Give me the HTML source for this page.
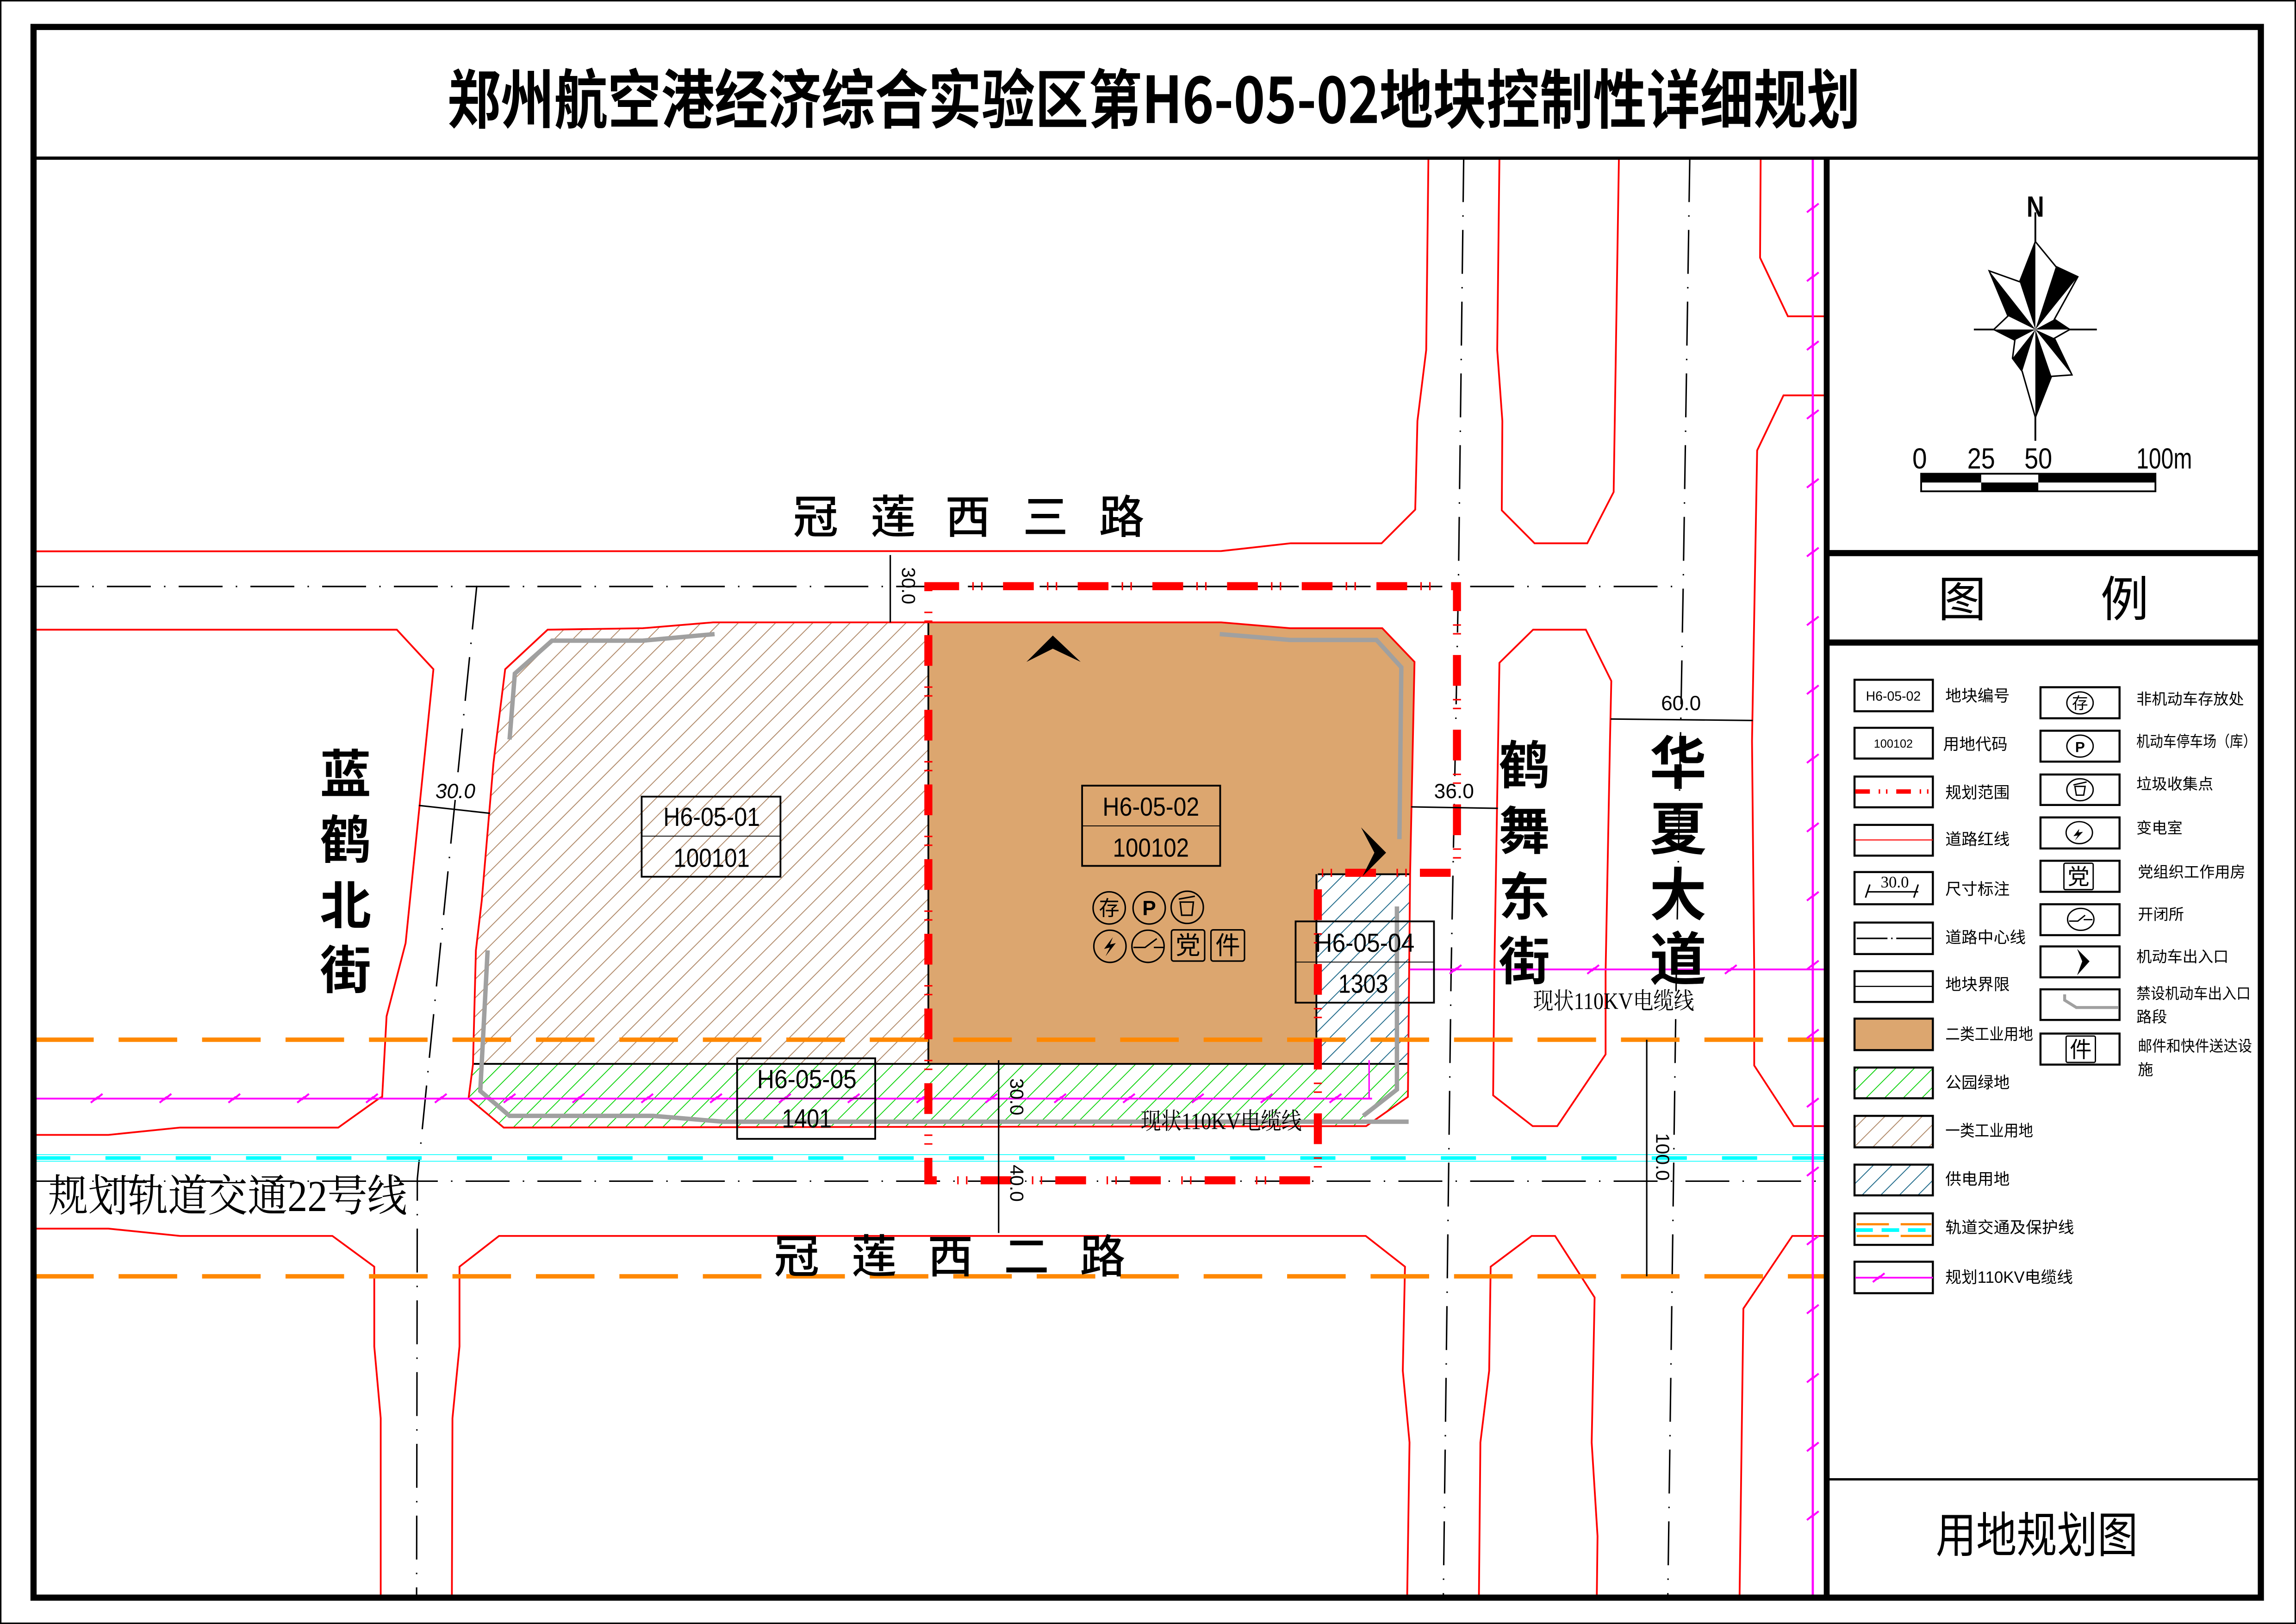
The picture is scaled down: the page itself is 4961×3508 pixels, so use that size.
<!DOCTYPE html>
<html><head><meta charset="utf-8"><style>
html,body{margin:0;padding:0;background:#fff;}
svg{display:block;}
text{font-family:"Liberation Sans","Noto Sans CJK SC",sans-serif;}
.cn{font-family:"Noto Sans CJK SC","WenQuanYi Zen Hei",sans-serif;}
.sf{font-family:"Liberation Serif","Noto Serif CJK SC",serif;}
.rd{fill:none;stroke:#ff0000;stroke-width:1.2;}
.cl{fill:none;stroke:#000;stroke-width:1;stroke-dasharray:30 9 1 9;}
.or{stroke:#ff8800;stroke-width:3;stroke-dasharray:40 17;}
.gy{fill:none;stroke:#a0a0a0;stroke-width:3;}
.lb{font-size:11px;}
.rb{font-size:10.5px;}
</style></head><body>
<svg width="4961" height="3508" viewBox="0 0 1568 1109" preserveAspectRatio="none" xmlns="http://www.w3.org/2000/svg">
<defs>
<pattern id="pb" patternUnits="userSpaceOnUse" width="9" height="9" patternTransform="rotate(45)">
<rect width="9" height="9" fill="#fff"/><line x1="0" y1="0" x2="0" y2="9" stroke="#b08a6a" stroke-width="1.2"/></pattern>
<pattern id="pg" patternUnits="userSpaceOnUse" width="9" height="9" patternTransform="rotate(45)">
<rect width="9" height="9" fill="#fff"/><line x1="0" y1="0" x2="0" y2="9" stroke="#00d000" stroke-width="1.1"/></pattern>
<pattern id="pe" patternUnits="userSpaceOnUse" width="9" height="9" patternTransform="rotate(45)">
<rect width="9" height="9" fill="#fff"/><line x1="0" y1="0" x2="0" y2="9" stroke="#1f6a8a" stroke-width="1.2"/></pattern>
<g id="zz"><path d="M-4,3 L1,-1 L-1,1 L4,-3" fill="none" stroke="#ff00ff" stroke-width="1.3"/></g>
</defs>
<rect x="0" y="0" width="1568" height="1109" fill="#fff"/>
<rect x="0.5" y="0.5" width="1567" height="1108" fill="none" stroke="#000" stroke-width="1"/>

<!-- land fills -->
<path d="M345,457 L374,430 L439,429 L487,425 L634,425 L634,726 L323,727 L325,649 L329,615 L337,521 Z" fill="url(#pb)"/>
<path d="M634,425 L834,425 L881,429 L944,429 L966,452 L963,597 L900,597 L899,726 L634,726 Z" fill="#dca66f"/>
<path d="M900,597 L963,597 L961.5,726 L898.5,726 Z" fill="url(#pe)"/>
<path d="M323,727 L961.5,726 L961.5,749 L933,769 L344,770 L320,750 Z" fill="url(#pg)"/>
<path d="M634,425 V726 M323,726.5 H961.5 M900,597 H963 M899,597 V726" stroke="#000" stroke-width="1.2" fill="none"/>

<!-- road red lines -->
<path class="rd" d="M24,376.5 L834,376.3 L881.5,371 L943.5,371 L966.5,348 L968,287.5 L974,239 L975.5,108"/>
<path class="rd" d="M24,430 L271,430 L296,457 L277,644 L264,694 L261,749 L259,750 L231,770 L123,770 L74,775 L24,775"/>
<path class="rd" d="M345,457 L374,430 L439,429 L487,425 L834,425 L881,429 L944,429 L966,452 L963,597 L961.5,749 L933,769 L344,770 L320,750 L323,727 L325,649 L329,615 L337,521 Z"/>
<path class="rd" d="M1024,108 L1022.5,239 L1026,287.5 L1025.6,348.5 L1048,371 L1084,371 L1102,336 L1105.6,108"/>
<path class="rd" d="M1202.4,108 L1202,176 L1221,216 L1246,216"/>
<path class="rd" d="M1246,270 L1218,270 L1200,307.6 L1196.5,506 L1198,664 L1198,727.6 L1225,769 L1246,769"/>
<path class="rd" d="M1024,452.6 L1047,430 L1083,430 L1100.4,465 L1099.5,506 L1096.5,664 L1096.5,720 L1063.5,769 L1046.7,769 L1019.7,748 L1020.5,664 Z"/>
<path class="rd" d="M24,839 L74,839 L123,844 L227,844 L255.6,865 L255.6,919.5 L260,968.5 L260,1090"/>
<path class="rd" d="M308.6,1090 L309,968.5 L313.8,919.5 L313.8,865 L340.8,844 L932.7,844 L959.5,865 L958,936 L962.6,985 L961,1090"/>
<path class="rd" d="M1010,1090 L1011,985 L1017,936 L1018,865 L1046,844 L1062,844 L1089,886 L1087,985 L1091,1049 L1090.5,1090"/>
<path class="rd" d="M1188,1090 L1190.6,893.6 L1224,844 L1246,844"/>

<!-- centerlines -->
<path class="cl" d="M24,400.5 H1150"/>
<path class="cl" d="M24,806.6 H1246"/>
<path class="cl" d="M325.6,400 L299,664 L285,805 L284.5,1090"/>
<path class="cl" d="M999.6,108 L996,398 L991,664 L985.7,1090"/>
<path class="cl" d="M1154,108 L1149.5,400 L1144.8,664 L1139,1090"/>

<!-- rail & protect -->
<line x1="24" y1="710" x2="1246" y2="710" class="or"/>
<line x1="24" y1="871.6" x2="1246" y2="871.6" class="or"/>
<line x1="24" y1="788.5" x2="1246" y2="788.5" stroke="#00ffff" stroke-width="0.5"/>
<line x1="24" y1="793" x2="1246" y2="793" stroke="#00ffff" stroke-width="0.5"/>
<line x1="24" y1="790.8" x2="1246" y2="790.8" stroke="#00ffff" stroke-width="2.5" stroke-dasharray="24 24"/>

<!-- gray no-entry -->
<path class="gy" d="M488,433 L439,437.5 L377,437.5 L351.6,460 L348,505"/>
<path class="gy" d="M333,649 L328,745 L348,762 L446,762 L494,766 L962,766"/>
<path class="gy" d="M833,433 L881,437 L940,437 L957,455.7 L955.7,573"/>
<path class="gy" d="M954,619 L954,744 L931,762"/>

<!-- cables -->
<line x1="24" y1="750.2" x2="937" y2="750.2" stroke="#ff00ff" stroke-width="1.2"/>
<path d="M935,750 V724" stroke="#ff00ff" stroke-width="1" fill="none"/>
<line x1="962.8" y1="662" x2="1246" y2="662" stroke="#ff00ff" stroke-width="1.2"/>
<line x1="1238" y1="108" x2="1238" y2="1090" stroke="#ff00ff" stroke-width="1.5"/>
<g>
<use href="#zz" x="66" y="750"/><use href="#zz" x="113" y="750"/><use href="#zz" x="160" y="750"/><use href="#zz" x="207" y="750"/><use href="#zz" x="254" y="750"/><use href="#zz" x="301" y="750"/><use href="#zz" x="348" y="750"/><use href="#zz" x="395" y="750"/><use href="#zz" x="442" y="750"/><use href="#zz" x="489" y="750"/><use href="#zz" x="536" y="750"/><use href="#zz" x="583" y="750"/><use href="#zz" x="630" y="750"/><use href="#zz" x="677" y="750"/><use href="#zz" x="724" y="750"/><use href="#zz" x="771" y="750"/><use href="#zz" x="818" y="750"/><use href="#zz" x="865" y="750"/><use href="#zz" x="912" y="750"/>
<use href="#zz" x="994" y="662"/><use href="#zz" x="1088" y="662"/><use href="#zz" x="1182" y="662"/>
<use href="#zz" x="1238" y="142"/><use href="#zz" x="1238" y="189"/><use href="#zz" x="1238" y="236"/><use href="#zz" x="1238" y="283"/><use href="#zz" x="1238" y="330"/><use href="#zz" x="1238" y="377"/><use href="#zz" x="1238" y="424"/><use href="#zz" x="1238" y="471"/><use href="#zz" x="1238" y="518"/><use href="#zz" x="1238" y="565"/><use href="#zz" x="1238" y="612"/><use href="#zz" x="1238" y="659"/><use href="#zz" x="1238" y="706"/><use href="#zz" x="1238" y="753"/><use href="#zz" x="1238" y="800"/><use href="#zz" x="1238" y="847"/><use href="#zz" x="1238" y="894"/><use href="#zz" x="1238" y="941"/><use href="#zz" x="1238" y="988"/><use href="#zz" x="1238" y="1035"/>
</g>

<!-- planning boundary -->
<path d="M634,400.3 H995 V596 H900 V806 H634 Z" fill="none" stroke="#ff0000" stroke-width="5.5" stroke-dasharray="21 9 1 5 1 14"/>

<!-- dimensions -->
<g stroke="#000" stroke-width="1" fill="none">
<path d="M608,379 V425 M286,550 L334.6,555.4 M963.8,551 L1023,552 M1100,491 L1197,492 M1124.6,710 V871.6 M682,724 V842"/>
</g>
<g fill="#000" class="sf">
<text x="311" y="545" font-size="14" text-anchor="middle" font-style="italic">30.0</text>
<text x="993" y="545" font-size="14" text-anchor="middle">36.0</text>
<text x="1148" y="485" font-size="14" text-anchor="middle">60.0</text>
<text transform="translate(616,400) rotate(90)" font-size="13" text-anchor="middle">30.0</text>
<text transform="translate(690,749) rotate(90)" font-size="13" text-anchor="middle">30.0</text>
<text transform="translate(690,808) rotate(90)" font-size="13" text-anchor="middle">40.0</text>
<text transform="translate(1131,790) rotate(90)" font-size="13" text-anchor="middle">100.0</text>
</g>

<!-- label boxes -->
<g fill="#fff" stroke="#000" stroke-width="1.2">
<rect x="438.2" y="544" width="94.8" height="54.7" fill="none"/>
<rect x="739" y="536.5" width="94.3" height="54.8" fill="none"/>
<rect x="884.8" y="629.2" width="94.5" height="55.5" fill="none"/>
<rect x="503.4" y="722.7" width="94.3" height="55" fill="none"/>
</g>
<g stroke="#000" stroke-width="0.6"><line x1="438.2" y1="571" x2="533" y2="571"/><line x1="739" y1="564" x2="833.3" y2="564"/><line x1="884.8" y1="657" x2="979.3" y2="657"/><line x1="503.4" y1="750" x2="597.7" y2="750"/></g>
<g font-size="18" text-anchor="middle" fill="#000">
<text x="486" y="564" textLength="66" lengthAdjust="spacingAndGlyphs">H6-05-01</text>
<text x="486" y="592" textLength="52" lengthAdjust="spacingAndGlyphs">100101</text>
<text x="786" y="557" textLength="66" lengthAdjust="spacingAndGlyphs">H6-05-02</text>
<text x="786" y="585" textLength="52" lengthAdjust="spacingAndGlyphs">100102</text>
<text x="932" y="650" textLength="68" lengthAdjust="spacingAndGlyphs">H6-05-04</text>
<text x="931" y="678" textLength="34" lengthAdjust="spacingAndGlyphs">1303</text>
<text x="551" y="743" textLength="68" lengthAdjust="spacingAndGlyphs">H6-05-05</text>
<text x="551" y="770" textLength="34" lengthAdjust="spacingAndGlyphs">1401</text>
</g>

<!-- facility icons -->
<g fill="none" stroke="#000" stroke-width="1">
<circle cx="757.5" cy="620" r="11"/><circle cx="784.8" cy="620" r="11"/><circle cx="810.8" cy="619.6" r="11"/>
<circle cx="758" cy="646.2" r="11"/><circle cx="784" cy="646.2" r="11"/>
<rect x="800" y="635" width="22.7" height="21.3" rx="1.5"/><rect x="827" y="635" width="22.9" height="21.3" rx="1.5"/>
<path d="M805,614 L816,612 M806,616 L815,616 L814,625 L807,625 Z"/>
<path d="M774,647 L782,647 L790,641 M788,647 L795,647"/>
</g>
<path d="M760,640 L754,648 L758,647 L755,653 L762,644 L758,645 Z" fill="#000"/>
<g class="cn" font-size="14" text-anchor="middle" fill="#000">
<text x="757.5" y="625">存</text><text x="784.8" y="625" font-family="Liberation Sans" font-weight="bold">P</text>
<text x="811.3" y="651.5" font-size="17">党</text><text x="838.5" y="651.5" font-size="17">件</text>
</g>

<!-- access arrows -->
<path d="M946.6,582.3 L929.5,565 L938.6,582.3 L930.5,598.4 Z" fill="#000"/>
<path d="M719,434 L701,452 L719,443 L738,452 Z" fill="#000"/>

<!-- road names -->
<g class="cn" fill="#000" font-size="31" text-anchor="middle" font-weight="500">
<text x="557" y="364">冠</text><text x="610" y="364">莲</text><text x="661" y="364">西</text><text x="714" y="364">三</text><text x="766" y="364">路</text>
<text x="544" y="869">冠</text><text x="597" y="869">莲</text><text x="649" y="869">西</text><text x="701" y="869">二</text><text x="753" y="869">路</text>
</g>
<g class="cn" fill="#000" font-size="35" text-anchor="middle" font-weight="bold">
<text x="236" y="541">蓝</text><text x="236" y="586">鹤</text><text x="236" y="631">北</text><text x="236" y="675">街</text>
<text x="1041" y="535">鹤</text><text x="1041" y="580">舞</text><text x="1041" y="625">东</text><text x="1041" y="669">街</text>
</g>
<g class="cn" fill="#000" font-size="39" text-anchor="middle" font-weight="bold">
<text x="1146" y="535">华</text><text x="1146" y="580">夏</text><text x="1146" y="625">大</text><text x="1146" y="669">道</text>
</g>
<text x="33" y="827" class="sf" font-size="30" fill="#000" textLength="245" lengthAdjust="spacingAndGlyphs" font-family="Liberation Serif, Noto Serif CJK SC, serif">规划轨道交通22号线</text>
<text x="1047" y="689" class="sf" font-size="16" fill="#000" font-family="Liberation Serif, Noto Serif CJK SC, serif" textLength="110" lengthAdjust="spacingAndGlyphs">现状110KV电缆线</text>
<text x="779" y="771" class="sf" font-size="16" fill="#000" font-family="Liberation Serif, Noto Serif CJK SC, serif" textLength="110" lengthAdjust="spacingAndGlyphs">现状110KV电缆线</text>

<!-- frame -->
<rect x="22.9" y="18.4" width="1521.1" height="1072.6" fill="none" stroke="#000" stroke-width="4.2"/>
<line x1="23" y1="108" x2="1544" y2="108" stroke="#000" stroke-width="2.2"/>
<line x1="1247.5" y1="108" x2="1247.5" y2="1091" stroke="#000" stroke-width="4"/>
<line x1="1247" y1="377.7" x2="1544" y2="377.7" stroke="#000" stroke-width="4.2"/>
<line x1="1247" y1="438.8" x2="1544" y2="438.8" stroke="#000" stroke-width="4.2"/>
<line x1="1247" y1="1010.2" x2="1544" y2="1010.2" stroke="#000" stroke-width="1.6"/>
<text x="788" y="84" class="cn" font-size="44" font-weight="bold" text-anchor="middle" textLength="965" lengthAdjust="spacingAndGlyphs" fill="#000">郑州航空港经济综合实验区第H6-05-02地块控制性详细规划</text>
<text x="1340" y="421" class="cn" font-size="33" text-anchor="middle">图</text>
<text x="1451" y="421" class="cn" font-size="33" text-anchor="middle">例</text>
<text x="1391" y="1060" class="cn" font-size="33" text-anchor="middle" textLength="138" lengthAdjust="spacingAndGlyphs">用地规划图</text>

<!-- compass -->
<g transform="translate(1390,225)">
<line x1="0" y1="-80" x2="0" y2="76" stroke="#000" stroke-width="1.2"/>
<line x1="-42" y1="0" x2="42" y2="0" stroke="#000" stroke-width="1.2"/>
<polygon points="0,-60 14,-43 29,-36 13,-7 23.5,0 13,6 25,31 11,32 0,60 -9,28.6 -15.6,19.7 -14,7.3 -28.4,0 -18.7,-9.2 -31.5,-40 -10.7,-32.6" fill="#fff" stroke="#000" stroke-width="1"/>
<g fill="#000">
<polygon points="0,0 0,-60 -10.7,-32.6"/>
<polygon points="0,0 14,-43 29,-36"/>
<polygon points="0,0 13,-7 23.5,0"/>
<polygon points="0,0 13,6 25,31"/>
<polygon points="0,0 11,32 0,60"/>
<polygon points="0,0 -9,28.6 -15.6,19.7"/>
<polygon points="0,0 -14,7.3 -28.4,0"/>
<polygon points="0,0 -18.7,-9.2 -31.5,-40"/>
</g>
</g>
<text x="1390" y="148" font-size="20" font-weight="bold" text-anchor="middle" textLength="12" lengthAdjust="spacingAndGlyphs">N</text>
<g font-size="20" fill="#000">
<text x="1311" y="320" text-anchor="middle" textLength="10" lengthAdjust="spacingAndGlyphs">0</text>
<text x="1353" y="320" text-anchor="middle" textLength="19" lengthAdjust="spacingAndGlyphs">25</text>
<text x="1392" y="320" text-anchor="middle" textLength="19" lengthAdjust="spacingAndGlyphs">50</text>
<text x="1478" y="320" text-anchor="middle" textLength="38" lengthAdjust="spacingAndGlyphs">100m</text>
</g>
<rect x="1312" y="323.5" width="160" height="12" fill="#fff" stroke="#000" stroke-width="1.2"/>
<rect x="1312" y="323.5" width="41" height="6" fill="#000"/><rect x="1392" y="323.5" width="80" height="6" fill="#000"/>
<rect x="1353" y="329.5" width="39" height="6" fill="#000"/>

<!-- legend left -->
<g fill="#fff" stroke="#000" stroke-width="1.4">
<rect x="1266.5" y="464.2" width="53.5" height="21.5"/>
<rect x="1266.5" y="497" width="53.5" height="21"/>
<rect x="1266.5" y="530.3" width="53.5" height="21"/>
<rect x="1266.5" y="563.3" width="53.5" height="21"/>
<rect x="1266.5" y="595.5" width="53.5" height="22"/>
<rect x="1266.5" y="630" width="53.5" height="21.5"/>
<rect x="1266.5" y="663.2" width="53.5" height="21"/>
<rect x="1266.5" y="695.6" width="53.5" height="21.5" fill="#dca66f"/>
<rect x="1266.5" y="729" width="53.5" height="21" fill="url(#pg)"/>
<rect x="1266.5" y="762" width="53.5" height="21.5" fill="url(#pb)"/>
<rect x="1266.5" y="795.3" width="53.5" height="21" fill="url(#pe)"/>
<rect x="1266.5" y="828.6" width="53.5" height="21.5"/>
<rect x="1266.5" y="861.6" width="53.5" height="21.5"/>
</g>
<g font-size="9" text-anchor="middle"><text x="1293" y="478.5">H6-05-02</text><text x="1293" y="510.5" font-size="8">100102</text></g>
<line x1="1267" y1="540.5" x2="1320" y2="540.5" stroke="#ff0000" stroke-width="3" stroke-dasharray="10 6 1 4 1 6"/>
<line x1="1267" y1="573.6" x2="1320" y2="573.6" stroke="#ff0000" stroke-width="0.7"/>
<path d="M1275,609 H1310 M1277,604 L1274,613 M1310,604 L1307,613" stroke="#000" stroke-width="1" fill="none"/>
<text x="1294" y="606" class="sf" font-size="11" text-anchor="middle" font-family="Liberation Serif, serif">30.0</text>
<path d="M1268,640.8 H1289 M1291.5,640.8 H1292.5 M1295,640.8 H1319" stroke="#000" stroke-width="1"/>
<line x1="1267" y1="673.6" x2="1320" y2="673.6" stroke="#000" stroke-width="0.8"/>
<path d="M1268,836 H1290 M1298,836 H1319 M1268,844 H1290 M1298,844 H1319" stroke="#ff8800" stroke-width="1.5"/>
<line x1="1267" y1="840" x2="1320" y2="840" stroke="#00ffff" stroke-width="2.5" stroke-dasharray="12 6"/>
<line x1="1267" y1="872.5" x2="1320" y2="872.5" stroke="#ff00ff" stroke-width="1.2"/>
<use href="#zz" x="1283" y="872.5"/>
<g class="cn lb" fill="#000">
<text x="1328.5" y="479">地块编号</text>
<text x="1327" y="512">用地代码</text>
<text x="1328.5" y="545">规划范围</text>
<text x="1328.5" y="577">道路红线</text>
<text x="1328.5" y="611">尺寸标注</text>
<text x="1328.5" y="644">道路中心线</text>
<text x="1328.5" y="676">地块界限</text>
<text x="1328.5" y="710" textLength="60" lengthAdjust="spacingAndGlyphs">二类工业用地</text>
<text x="1328.5" y="743">公园绿地</text>
<text x="1328.5" y="776" textLength="60" lengthAdjust="spacingAndGlyphs">一类工业用地</text>
<text x="1328.5" y="809">供电用地</text>
<text x="1328.5" y="842">轨道交通及保护线</text>
<text x="1328.5" y="876">规划110KV电缆线</text>
</g>

<!-- legend right -->
<g fill="#fff" stroke="#000" stroke-width="1.4">
<rect x="1393.5" y="469.3" width="54" height="21.2"/>
<rect x="1393.5" y="499" width="54" height="21.1"/>
<rect x="1393.5" y="528.9" width="54" height="20.8"/>
<rect x="1393.5" y="558.2" width="54" height="21.2"/>
<rect x="1393.5" y="587.8" width="54" height="21.2"/>
<rect x="1393.5" y="617.5" width="54" height="21.1"/>
<rect x="1393.5" y="646.3" width="54" height="21.1"/>
<rect x="1393.5" y="675.6" width="54" height="20.9"/>
<rect x="1393.5" y="705.8" width="54" height="21.2"/>
</g>
<g fill="none" stroke="#000" stroke-width="0.9">
<ellipse cx="1420.5" cy="480" rx="9" ry="7.5"/><ellipse cx="1420.5" cy="509.5" rx="9" ry="7.5"/>
<ellipse cx="1420.5" cy="539.3" rx="9" ry="7.5"/><ellipse cx="1420" cy="568.6" rx="9" ry="7.5"/>
<ellipse cx="1421" cy="627.8" rx="9" ry="7.5"/>
<rect x="1409.5" y="589.5" width="20" height="18" rx="1"/><rect x="1411" y="707.5" width="20" height="18" rx="1"/>
<path d="M1416,536 L1425,534 M1417,537 L1424,537 L1423,543 L1418,543 Z"/>
<path d="M1413,629 L1419,629 L1424,625 M1423,628 L1429,628"/>
</g>
<path d="M1420,566 L1416,571 L1419,570.5 L1417,574 L1422.5,568 L1419.5,568.5 Z" fill="#000"/>
<path d="M1427,656.5 L1418.5,648 L1422,656.5 L1418.5,666 Z" fill="#000"/>
<path d="M1410,679 L1410,683 L1418,688 L1447,688" stroke="#a0a0a0" stroke-width="2" fill="none"/>
<g class="cn" font-size="11" text-anchor="middle" fill="#000">
<text x="1420.5" y="484">存</text><text x="1420.5" y="513.5" font-family="Liberation Sans" font-weight="bold" font-size="10">P</text>
<text x="1419.5" y="604" font-size="15">党</text><text x="1421" y="722" font-size="15">件</text>
</g>
<g class="cn rb" fill="#000">
<text x="1459" y="481">非机动车存放处</text>
<text x="1459" y="510" textLength="82" lengthAdjust="spacingAndGlyphs">机动车停车场（库）</text>
<text x="1459" y="539">垃圾收集点</text>
<text x="1459" y="569">变电室</text>
<text x="1460" y="599">党组织工作用房</text>
<text x="1460" y="628">开闭所</text>
<text x="1459" y="657">机动车出入口</text>
<text x="1459" y="682" textLength="78" lengthAdjust="spacingAndGlyphs">禁设机动车出入口</text>
<text x="1459" y="698">路段</text>
<text x="1460" y="718" textLength="78" lengthAdjust="spacingAndGlyphs">邮件和快件送达设</text>
<text x="1460" y="734">施</text>
</g>
</svg>
</body></html>
